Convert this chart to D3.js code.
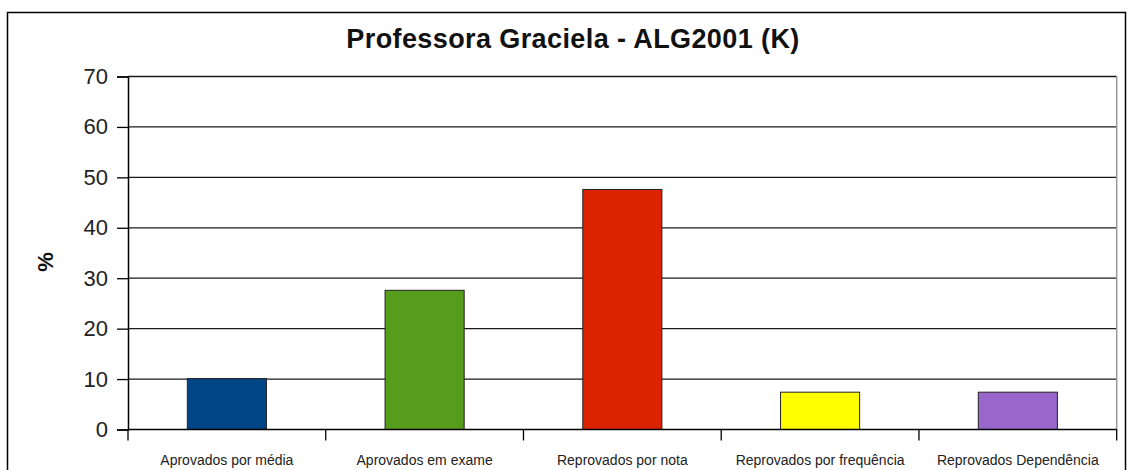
<!DOCTYPE html>
<html>
<head>
<meta charset="utf-8">
<script src="https://cdn.jsdelivr.net/npm/d3@7"></script>
<style>
  body { margin: 0; background: #fff; }
  svg { display: block; font-family: "Liberation Sans", Arial, sans-serif; }
</style>
</head>
<body>
<div id="chart"></div>
<script>
const categories = ["Aprovados por média", "Aprovados em exame", "Reprovados por nota", "Reprovados por frequência", "Reprovados Dependência"];
const values = [10.1, 27.6, 47.6, 7.4, 7.4];
const colors = ["#004586", "#579d1c", "#dc2300", "#ffff00", "#9966cc"];
const yTicks = [0, 10, 20, 30, 40, 50, 60, 70];

const width = 1129, height = 470;
const margin = { left: 128, right: 12, top: 76.5, bottom: 40.5 };
const plotRight = 1116.7, plotBottom = 429.5;

const svg = d3.select("#chart").append("svg")
  .attr("width", width)
  .attr("height", height);

// outer frame
svg.append("rect")
  .attr("x", 7.5).attr("y", 12.5)
  .attr("width", 1118).attr("height", 480)
  .attr("fill", "none")
  .attr("stroke", "#000")
  .attr("stroke-width", 1.5);

const x = d3.scaleBand()
  .domain(categories)
  .range([margin.left, plotRight])
  .paddingInner(0.6)
  .paddingOuter(0.3);

const y = d3.scaleLinear()
  .domain([0, 70])
  .range([plotBottom, margin.top]);

// grid lines
svg.append("g")
  .selectAll("line")
  .data(yTicks.filter(d => d > 0))
  .join("line")
  .attr("x1", margin.left).attr("x2", plotRight)
  .attr("y1", d => y(d)).attr("y2", d => y(d))
  .attr("stroke", "#1a1a1a")
  .attr("stroke-width", 1.3);

// right border of plot
svg.append("line")
  .attr("x1", plotRight).attr("x2", plotRight)
  .attr("y1", margin.top).attr("y2", plotBottom)
  .attr("stroke", "#999")
  .attr("stroke-width", 1.5);

// bars
svg.append("g")
  .selectAll("rect")
  .data(values)
  .join("rect")
  .attr("x", (d, i) => x(categories[i]))
  .attr("y", d => y(d))
  .attr("width", x.bandwidth())
  .attr("height", d => plotBottom - y(d))
  .attr("fill", (d, i) => colors[i])
  .attr("stroke", "#222")
  .attr("stroke-width", 1);

// y axis
const yAxis = svg.append("g")
  .attr("transform", `translate(${margin.left},0)`)
  .call(d3.axisLeft(y).tickValues(yTicks).tickSize(11).tickPadding(9));
yAxis.select(".domain").attr("stroke", "#000").attr("stroke-width", 1.5);
yAxis.selectAll(".tick line").attr("stroke", "#000").attr("stroke-width", 1.3);
yAxis.selectAll(".tick text")
  .attr("font-size", 22)
  .attr("font-family", "Liberation Sans, Arial, sans-serif")
  .attr("fill", "#222");

// x axis
const xEdges = [margin.left].concat(categories.map(c => x(c) - x.step() * 0.3 + x.step()));
svg.append("line")
  .attr("x1", margin.left).attr("x2", plotRight)
  .attr("y1", plotBottom).attr("y2", plotBottom)
  .attr("stroke", "#000").attr("stroke-width", 1.5);
svg.append("g")
  .selectAll("line")
  .data(xEdges)
  .join("line")
  .attr("x1", d => d).attr("x2", d => d)
  .attr("y1", plotBottom).attr("y2", plotBottom + 11)
  .attr("stroke", "#000").attr("stroke-width", 1.3);
svg.append("g")
  .selectAll("text")
  .data(categories)
  .join("text")
  .attr("x", d => x(d) + x.bandwidth() / 2)
  .attr("y", 465)
  .attr("text-anchor", "middle")
  .attr("font-size", 14)
  .attr("fill", "#222")
  .text(d => d);

// title
svg.append("text")
  .attr("x", 573).attr("y", 48)
  .attr("text-anchor", "middle")
  .attr("font-size", 27)
  .attr("font-weight", "bold")
  .attr("letter-spacing", 0.4)
  .attr("fill", "#111")
  .text("Professora Graciela - ALG2001 (K)");

// y label
svg.append("text")
  .attr("transform", "translate(53,262) rotate(-90)")
  .attr("text-anchor", "middle")
  .attr("font-size", 22)
  .attr("font-weight", "bold")
  .attr("fill", "#111")
  .text("%");
</script>
</body>
</html>
